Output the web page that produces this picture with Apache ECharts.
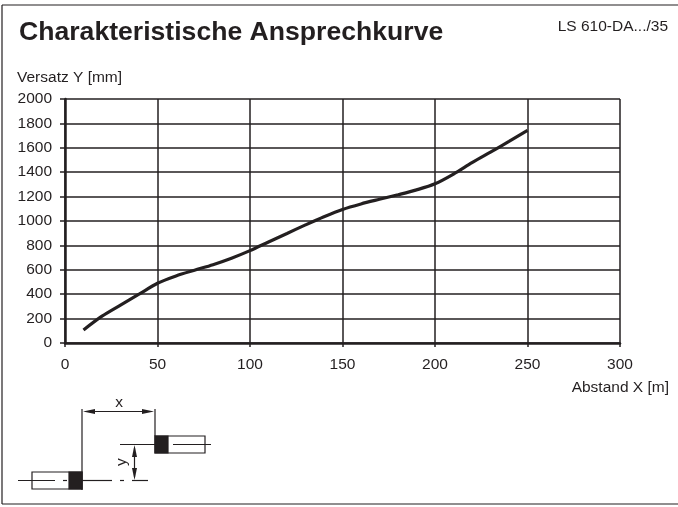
<!DOCTYPE html>
<html>
<head>
<meta charset="utf-8">
<style>
  html, body { margin: 0; padding: 0; background: #fff; }
  #chart { width: 678px; height: 507px; }
</style>
<script src="https://cdn.jsdelivr.net/npm/echarts@6/dist/echarts.min.js"></script>
</head>
<body>
<div id="chart"></div>
<script>
const distance = [10, 20, 30, 40, 50, 60, 70, 80, 90, 100, 110, 120, 130, 140, 150, 160, 170, 180, 190, 200, 210, 220, 230, 240, 250]
const offset = [107, 220, 311, 400, 490, 550, 597, 642, 695, 757, 828, 898, 968, 1035, 1095, 1140, 1178, 1215, 1255, 1305, 1385, 1478, 1565, 1652, 1742]

const ink = '#231f20'
const font = '"Liberation Sans", Arial, sans-serif'

const line = (x1, y1, x2, y2, width = 1.2) => ({
  type: 'line',
  shape: { x1, y1, x2, y2 },
  style: { stroke: ink, lineWidth: width },
})
const box = (x, y, width, height, fill) => ({
  type: 'rect',
  shape: { x, y, width, height },
  style: { fill, stroke: ink, lineWidth: 1.2 },
})
const head = (points) => ({
  type: 'polygon',
  shape: { points },
  style: { fill: ink },
})
const label = (text, x, y, extra = {}) => ({
  type: 'text',
  x,
  y,
  style: { text, fill: ink, font: `15.5px ${font}`, align: 'center', verticalAlign: 'middle' },
  ...extra,
})

// sensor sketch below the plot
const sketch = [
  // outer frame, open on the right
  line(2, 5, 678, 5), line(2, 5, 2, 504), line(2, 504, 678, 504),
  // guides
  line(82, 409, 82, 490), line(155, 409, 155, 436),
  // x dimension
  line(86, 411.5, 151, 411.5), head([[83, 411.5], [95, 409], [95, 414]]), head([[154, 411.5], [142, 409], [142, 414]]),
  label('x', 119, 403),
  // receiver
  box(155, 436, 50, 17, '#fff'), box(155, 436, 13, 17, ink),
  line(120, 444.5, 155, 444.5), line(173, 444.5, 211, 444.5),
  // emitter
  box(32, 472, 50, 17, '#fff'), box(69, 472, 13, 17, ink),
  line(18, 480.5, 55, 480.5), line(63, 480.5, 67, 480.5), line(82, 480.5, 112, 480.5),
  line(120, 480.5, 124, 480.5), line(132, 480.5, 148, 480.5),
  // y dimension
  line(134.5, 448, 134.5, 477), head([[134.5, 445], [132, 457], [137, 457]]), head([[134.5, 480], [132, 468], [137, 468]]),
  label('y', 122, 462, { rotation: Math.PI / 2 }),
]

const chart = echarts.init(document.getElementById('chart'))
chart.setOption({
  animation: false,
  backgroundColor: '#fff',
  title: [
    { text: 'Charakteristische Ansprechkurve', left: 14, top: 14, textStyle: { fontFamily: font, fontSize: 26.6, fontWeight: 'bold', color: ink } },
    { text: 'LS 610-DA.../35', right: 5, top: 14, textStyle: { fontFamily: font, fontSize: 15.5, fontWeight: 'normal', color: ink } },
    { text: 'Versatz Y [mm]', left: 12, top: 65, textStyle: { fontFamily: font, fontSize: 15.5, fontWeight: 'normal', color: ink } },
    { text: 'Abstand X [m]', right: 4, top: 375, textStyle: { fontFamily: font, fontSize: 15.5, fontWeight: 'normal', color: ink } },
  ],
  grid: { left: 65, top: 99, width: 555, height: 244 },
  xAxis: {
    type: 'value',
    min: 0,
    max: 300,
    interval: 50,
    axisLine: { lineStyle: { color: ink, width: 2.5 } },
    axisTick: { show: true, length: 4, lineStyle: { color: ink, width: 1.5 } },
    axisLabel: { color: ink, fontFamily: font, fontSize: 15.5, margin: 14 },
    splitLine: { lineStyle: { color: ink, width: 1.5 } },
  },
  yAxis: {
    type: 'value',
    min: 0,
    max: 2000,
    interval: 200,
    axisLine: { show: true, lineStyle: { color: ink, width: 2.5 } },
    axisTick: { show: true, length: 5, lineStyle: { color: ink, width: 1.5 } },
    axisLabel: { color: ink, fontFamily: font, fontSize: 15.5, margin: 13, formatter: (v) => String(v) },
    splitLine: { lineStyle: { color: ink, width: 1.5 } },
  },
  series: [
    {
      type: 'line',
      data: distance.map((d, i) => [d, offset[i]]),
      symbol: 'none',
      smooth: 0.3,
      lineStyle: { color: ink, width: 3.2 },
    },
  ],
  graphic: sketch,
})
</script>
</body>
</html>
